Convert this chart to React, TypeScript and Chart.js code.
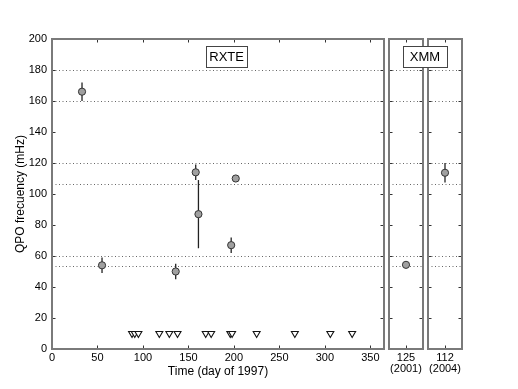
import React, { useEffect, useRef } from "react";
import { Chart, registerables } from "chart.js";
Chart.register(...registerables);

// RXTE detections (day of 1997, QPO frequency mHz, 1-sigma error)
const rxteDays = [33, 55, 136, 158, 161, 197, 202];
const rxteFreq = [166, 54, 50, 114, 87, 67, 110];
const rxteErr = [6, 5, 5, 5, 22, 5, 2];
// RXTE non-detections (upper limits)
const limitDays = [88, 91, 95, 118, 129, 138, 169, 175, 196, 198, 225, 267, 306, 330];
const limitFreq = [10, 10, 10, 10, 10, 10, 10, 10, 10, 10, 10, 10, 10, 10];
// XMM observations
const xmmLabels = [["125", "(2001)"], ["112", "(2004)"]];
const xmmFreq = [54.3, 113.7];
const xmmErr = [1, 6.3];
// reference frequency levels (dotted)
const refLevels = [180, 160, 120, 106.7, 60, 53.3];
const xTicksMain = [0, 50, 100, 150, 200, 250, 300, 350];

const FONT = "'Liberation Sans', Arial, Helvetica, sans-serif";
const font11 = { family: FONT, size: 11, lineHeight: 1.0 };
const titleFont = { family: FONT, size: 12 };

const panelPlugin = {
  id: "panel",
  beforeDatasetsDraw(chart: any, _a: any, opts: any) {
    const { ctx, chartArea: a, scales } = chart;
    const y = scales.y;
    ctx.save();
    ctx.strokeStyle = "#666";
    ctx.lineWidth = 1;
    ctx.setLineDash([1, 2.5]);
    for (const v of refLevels) {
      const py = Math.round(y.getPixelForValue(v)) + 0.5;
      ctx.beginPath();
      ctx.moveTo(a.left, py);
      ctx.lineTo(a.right, py);
      ctx.stroke();
    }
    ctx.setLineDash([]);
    // error bars
    const meta = chart.getDatasetMeta(0);
    const ds = chart.data.datasets[0].data as any[];
    const errs: number[] = opts.errors || [];
    ctx.strokeStyle = "#222";
    ctx.lineWidth = 1.3;
    meta.data.forEach((pt: any, i: number) => {
      const e = errs[i];
      if (!e) return;
      const v = ds[i].y;
      ctx.beginPath();
      ctx.moveTo(pt.x, y.getPixelForValue(v + e));
      ctx.lineTo(pt.x, y.getPixelForValue(v - e));
      ctx.stroke();
    });
    ctx.restore();
  },
  afterDatasetsDraw(chart: any) {
    const { ctx, chartArea: a, scales } = chart;
    const x = scales.x, y = scales.y;
    ctx.save();
    ctx.strokeStyle = "#333";
    ctx.lineWidth = 1;
    const tl = 3.5;
    for (let v = 0; v <= 200; v += 20) {
      const py = Math.round(y.getPixelForValue(v)) + 0.5;
      ctx.beginPath();
      ctx.moveTo(a.left, py); ctx.lineTo(a.left + tl, py);
      ctx.moveTo(a.right, py); ctx.lineTo(a.right - tl, py);
      ctx.stroke();
    }
    for (const t of x.ticks) {
      const px = Math.round(x.getPixelForValue(t.value)) + 0.5;
      ctx.beginPath();
      ctx.moveTo(px, a.bottom); ctx.lineTo(px, a.bottom - tl);
      ctx.moveTo(px, a.top); ctx.lineTo(px, a.top + tl);
      ctx.stroke();
    }
    ctx.strokeStyle = "#7a7a7a";
    ctx.lineWidth = 2;
    ctx.strokeRect(Math.round(a.left), Math.round(a.top), Math.round(a.right - a.left), Math.round(a.bottom - a.top));
    ctx.restore();
  },
  afterDraw(chart: any, _a: any, opts: any) {
    const b = opts.box;
    if (!b) return;
    const { ctx, chartArea: a, scales } = chart;
    const cx = b.atGap ? a.left - 3 : scales.x.getPixelForValue(b.xv);
    const cy = scales.y.getPixelForValue(b.yv);
    ctx.save();
    const w = b.w, h = 21;
    const l = Math.round(cx - w / 2) + 0.5, t = Math.round(cy - h / 2) + 0.5;
    ctx.fillStyle = "#fff";
    ctx.fillRect(l, t, w, h);
    ctx.strokeStyle = "#444";
    ctx.lineWidth = 1;
    ctx.strokeRect(l, t, w, h);
    ctx.fillStyle = "#000";
    ctx.font = `13px ${FONT}`;
    ctx.textAlign = "center";
    ctx.textBaseline = "middle";
    ctx.fillText(b.text, cx, cy + 1);
    ctx.restore();
  },
};

const pointStyle = {
  pointRadius: 3.6,
  pointBackgroundColor: "#a0a0a0",
  pointBorderColor: "#333",
  pointBorderWidth: 1,
  showLine: false,
};

function mainConfig(): any {
  return {
    type: "scatter",
    data: {
      datasets: [
        { data: rxteDays.map((d, i) => ({ x: d, y: rxteFreq[i] })), ...pointStyle },
        {
          data: limitDays.map((d, i) => ({ x: d, y: limitFreq[i] })),
          pointStyle: "triangle",
          rotation: 180,
          pointRadius: 4,
          pointBackgroundColor: "#fff",
          pointBorderColor: "#111",
          pointBorderWidth: 1.1,
          showLine: false,
        },
      ],
    },
    options: {
      responsive: false,
      animation: false,
      devicePixelRatio: 1,
      layout: { padding: { left: 9, right: 134, top: 39, bottom: 10 } },
      plugins: {
        legend: { display: false },
        tooltip: { enabled: false },
        panel: { errors: rxteErr, box: { text: "RXTE", xv: 192, yv: 189, w: 41 } },
      },
      scales: {
        x: {
          type: "linear",
          min: 0,
          max: 365,
          grid: { display: false, drawTicks: false },
          border: { display: false },
          ticks: { stepSize: 50, padding: 3, font: font11, color: "#000", maxRotation: 0, autoSkip: false },
          afterBuildTicks: (s: any) => {
            s.ticks = xTicksMain.map((v) => ({ value: v }));
          },
          afterFit: (s: any) => {
            s.height = 30;
          },
          title: { display: true, text: "Time (day of 1997)", font: titleFont, color: "#000", padding: 0 },
        },
        y: {
          min: 0,
          max: 200,
          grid: { display: false, drawTicks: false },
          border: { display: false },
          ticks: { stepSize: 20, padding: 5, font: font11, color: "#000" },
          afterFit: (s: any) => {
            s.width = 43;
          },
          title: { display: true, text: "QPO frecuency (mHz)", font: titleFont, color: "#000", padding: { top: 4, bottom: 0 } },
        },
      },
    },
    plugins: [panelPlugin],
  };
}

function xmmConfig(k: number, left: number, right: number, box: any): any {
  return {
    type: "scatter",
    data: {
      datasets: [{ data: [{ x: 1, y: xmmFreq[k] }], ...pointStyle }],
    },
    options: {
      responsive: false,
      animation: false,
      devicePixelRatio: 1,
      layout: { padding: { left, right, top: 39, bottom: 10 } },
      plugins: {
        legend: { display: false },
        tooltip: { enabled: false },
        panel: { errors: [xmmErr[k]], box },
      },
      scales: {
        x: {
          type: "linear",
          min: 0,
          max: 2,
          grid: { display: false, drawTicks: false },
          border: { display: false },
          ticks: { padding: 3, font: font11, color: "#000", maxRotation: 0, minRotation: 0, autoSkip: false, callback: () => xmmLabels[k] },
          afterBuildTicks: (s: any) => {
            s.ticks = [{ value: 1 }];
          },
          afterFit: (s: any) => {
            s.height = 30;
          },
        },
        y: { display: false, min: 0, max: 200 },
      },
    },
    plugins: [panelPlugin],
  };
}

export default function App() {
  const r1 = useRef<HTMLCanvasElement>(null);
  const r2 = useRef<HTMLCanvasElement>(null);
  const r3 = useRef<HTMLCanvasElement>(null);
  useEffect(() => {
    const charts = [
      new Chart(r1.current!, mainConfig()),
      new Chart(r2.current!, xmmConfig(0, 389, 518 - 423, null)),
      new Chart(r3.current!, xmmConfig(1, 428, 518 - 462, { text: "XMM", atGap: true, yv: 189, w: 44 })),
    ];
    return () => charts.forEach((c) => c.destroy());
  }, []);
  const cs: React.CSSProperties = { position: "absolute", left: 0, top: 0 };
  return (
    <div style={{ position: "fixed", left: 0, top: 0, width: 518, height: 389, background: "#fff" }}>
      <canvas ref={r1} width={518} height={389} style={cs} />
      <canvas ref={r2} width={518} height={389} style={cs} />
      <canvas ref={r3} width={518} height={389} style={cs} />
    </div>
  );
}
